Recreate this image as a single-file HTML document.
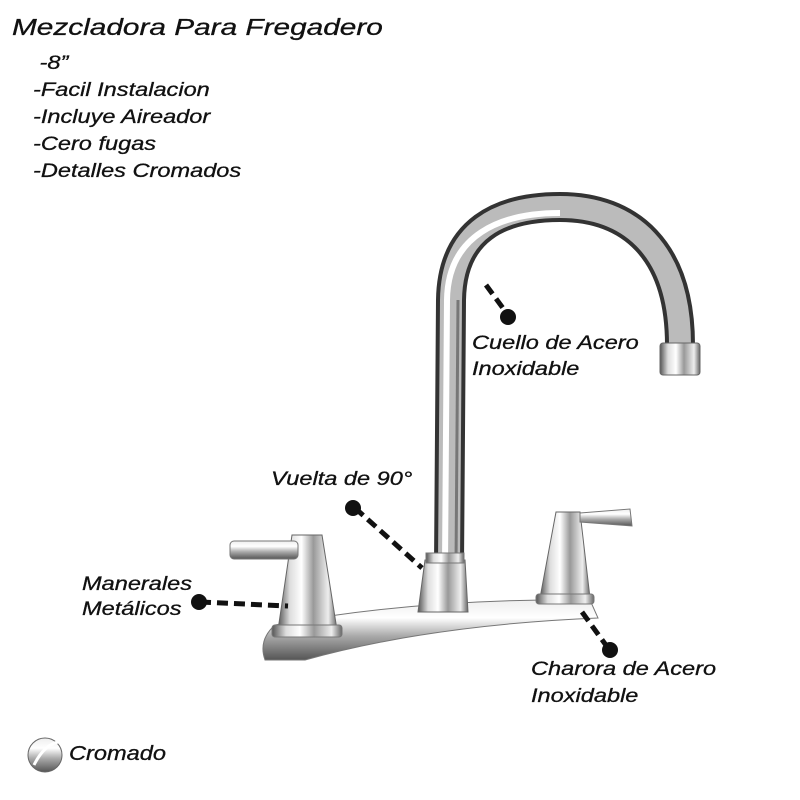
<!DOCTYPE html><html><head><style>
body{margin:0;background:#fff;width:800px;height:800px;overflow:hidden;position:relative;font-family:"Liberation Sans",sans-serif;font-style:italic;color:#111}
.t{position:absolute;white-space:nowrap;transform:scaleX(1.24);transform-origin:0 0;-webkit-text-stroke:0.3px #111}
</style></head><body>
<svg width="800" height="800" style="position:absolute;left:0;top:0">
<defs>
<linearGradient id="ch" x1="0" x2="1" y1="0" y2="0">
<stop offset="0" stop-color="#555"/><stop offset=".2" stop-color="#ddd"/><stop offset=".4" stop-color="#fff"/><stop offset=".6" stop-color="#999"/><stop offset=".85" stop-color="#eee"/><stop offset="1" stop-color="#666"/></linearGradient>
<linearGradient id="cv" x1="0" x2="0" y1="0" y2="1">
<stop offset="0" stop-color="#eee"/><stop offset=".3" stop-color="#fff"/><stop offset=".6" stop-color="#aaa"/><stop offset="1" stop-color="#555"/></linearGradient>
</defs>
<path d="M449,565 L451,300 C452,230 500,207 560,207 C630,207 680,250 680,345" fill="none" stroke="#333" stroke-width="30"/>
<path d="M449,565 L451,300 C452,230 500,207 560,207 C630,207 680,250 680,345" fill="none" stroke="#bbb" stroke-width="22"/>
<path d="M445,565 L447,300 C448,235 500,213 560,213" fill="none" stroke="#fff" stroke-width="6"/>
<path d="M456,565 L458,300" fill="none" stroke="#777" stroke-width="3"/>
<rect x="660" y="343" width="40" height="32" rx="3" fill="url(#ch)" stroke="#666"/>
<path d="M275,625 Q420,598 590,600 L598,618 Q430,625 305,660 L265,660 Q258,640 275,625Z" fill="url(#cv)" stroke="#777"/>
<path d="M425,560 L465,560 L468,612 L418,612Z" fill="url(#ch)" stroke="#666"/>
<rect x="426" y="553" width="38" height="10" fill="url(#ch)" stroke="#777"/>
<path d="M292,535 L322,535 L337,630 L278,630Z" fill="url(#ch)" stroke="#666"/>
<rect x="230" y="541" width="68" height="18" rx="4" fill="url(#cv)" stroke="#777"/>
<rect x="272" y="625" width="70" height="12" rx="3" fill="url(#ch)" stroke="#777"/>
<path d="M556,512 L580,512 L590,598 L540,598Z" fill="url(#ch)" stroke="#666"/>
<path d="M580,513 L630,509 L632,526 L580,522Z" fill="url(#cv)" stroke="#777"/>
<rect x="536" y="594" width="58" height="10" rx="3" fill="url(#ch)" stroke="#777"/>
<g stroke="#111" stroke-width="5" stroke-dasharray="11,6" fill="none">
<line x1="486" y1="285" x2="508" y2="315"/>
<line x1="355" y1="508" x2="422" y2="568"/>
<line x1="200" y1="602" x2="288" y2="606"/>
<line x1="582" y1="612" x2="608" y2="648"/>
</g>
<g fill="#111"><circle cx="508" cy="317" r="8"/><circle cx="353" cy="508" r="8"/><circle cx="199" cy="602" r="8"/><circle cx="610" cy="650" r="8"/></g>
<circle cx="45" cy="755" r="17" fill="url(#cv)" stroke="#666"/>
<path d="M34,765 Q44,745 58,742" stroke="#fff" stroke-width="3" fill="none"/>
</svg>
<div class="t" style="left:12px;top:14px;font-size:23px;transform:scaleX(1.295)">Mezcladora Para Fregadero</div>
<div class="t" style="left:33px;top:50px;font-size:19px;line-height:27px">&nbsp;-8”<br>-Facil Instalacion<br>-Incluye Aireador<br>-Cero fugas<br>-Detalles Cromados</div>
<div class="t" style="left:472px;top:331px;font-size:19px;line-height:26px">Cuello de Acero<br>Inoxidable</div>
<div class="t" style="left:271px;top:469px;font-size:19px">Vuelta de 90°</div>
<div class="t" style="left:82px;top:572px;font-size:19px;line-height:25px">Manerales<br>Metálicos</div>
<div class="t" style="left:531px;top:656px;font-size:19px;line-height:27px">Charora de Acero<br>Inoxidable</div>
<div class="t" style="left:69px;top:743px;font-size:20px;transform:scaleX(1.18)">Cromado</div>
</body></html>
